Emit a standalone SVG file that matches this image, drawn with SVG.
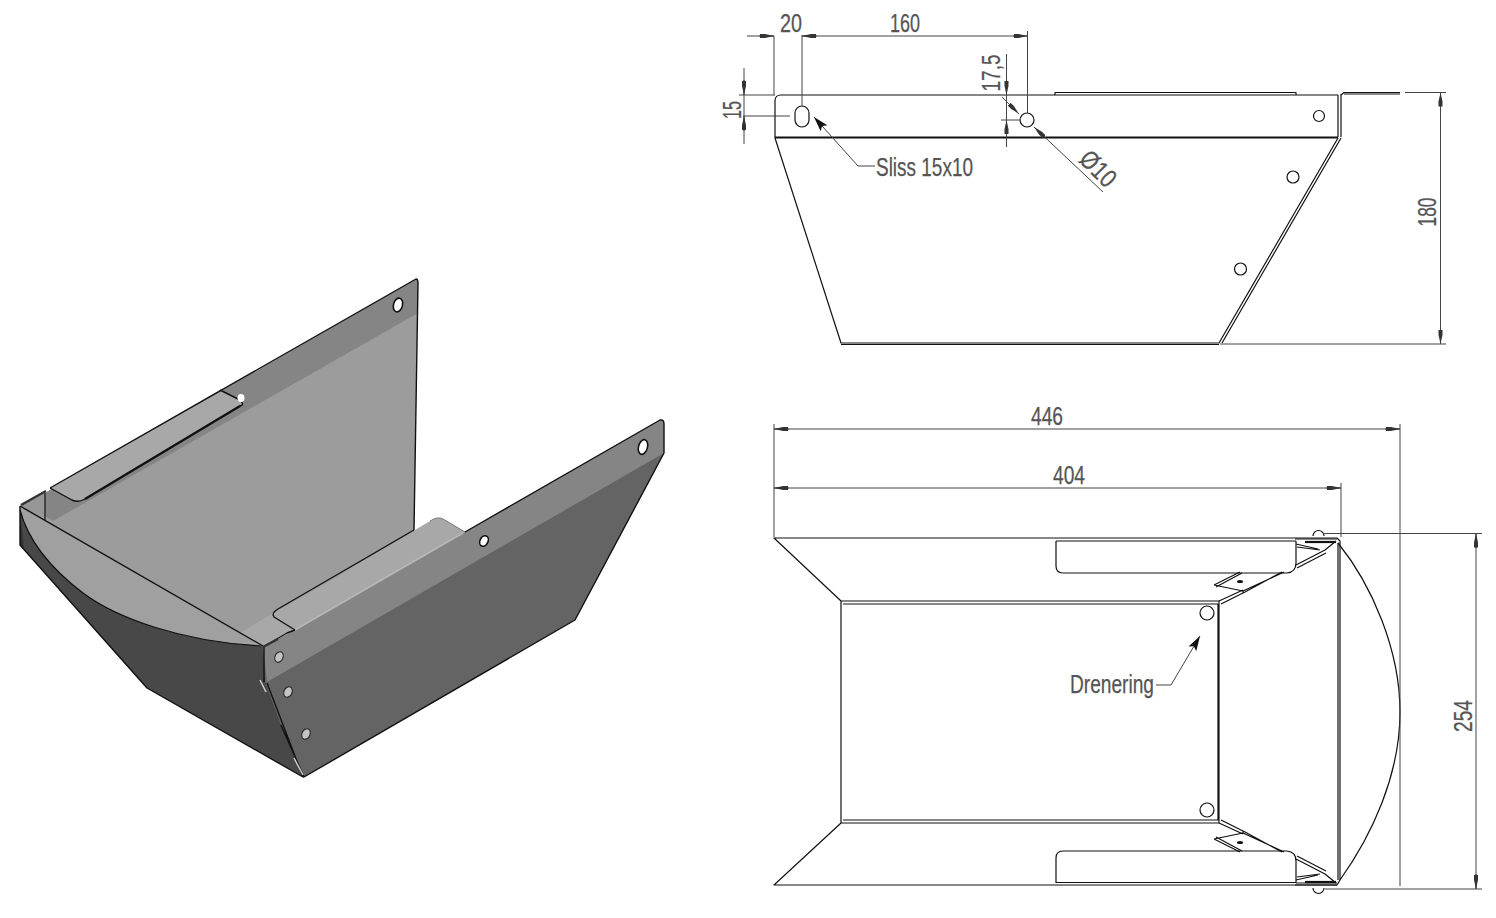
<svg xmlns="http://www.w3.org/2000/svg" xmlns:xlink="http://www.w3.org/1999/xlink" width="1496" height="918" viewBox="0 0 1496 918">
<style>
.e{stroke:#111;stroke-width:1.2;fill:none;stroke-linejoin:round}
.t{stroke:#111;stroke-width:2.2;fill:none}
.o{stroke:#111;stroke-width:1.4;stroke-linejoin:round}
.d{stroke:#444;stroke-width:1;fill:none}
.a{marker-end:url(#ah)}
.h{fill:#fff;stroke:#111;stroke-width:1.6}
.g{fill:#c4c4c4;stroke:#222;stroke-width:1}
text{font-family:"Liberation Sans",Arial,sans-serif;font-size:26px;fill:#555;stroke:#555;stroke-width:.25}
</style>
<defs>
<marker id="ah" markerUnits="userSpaceOnUse" markerWidth="16" markerHeight="8" refX="14" refY="4" orient="auto"><path d="M0,2H5L14,4 5,6H0Z" fill="#333"/></marker>
<marker id="lh" markerUnits="userSpaceOnUse" markerWidth="18" markerHeight="12" refX="15" refY="6" orient="auto"><path d="M15,6L0,1.500 3,6 0,10.500Z" fill="#111"/></marker>
<g id="corner">
<path class="e" d="M1056,541V566Q1056,573 1063,573H1287Q1296,572 1296,563V541"/>
<path class="e" d="M1296,565L1325,550M1297,568L1326,553M1325,550L1336,541M1219,601L1243,590M1221,604L1245,592M1243,590V593M1245,592L1282,572M1243,591L1284,572"/>
<path class="e" d="M1214,585L1240,572M1216,587L1242,573M1214,585L1243,591"/>
<ellipse cx="1240" cy="581.500" rx="3" ry="1.500" fill="#111"/>
<path class="e" d="M1295,539H1337M1296,544L1318,549M1297,547L1320,550"/>
<path class="t" d="M1305,542H1336"/>
<path class="e" d="M1313,536A5,5 0 0 1 1324,536"/>
</g>
</defs>
<rect width="1496" height="918" fill="#fff"/>

<g id="isometric">
<path d="M45,493L416,279Q418,279 418,283L414,530 263,647 20,506Z" fill="#9c9c9c"/>
<path d="M45,493L416,279Q418,279 418,283V313L53,521 45,516Z" fill="#858585"/>
<path d="M20,506L45,493V516Z" fill="#969696"/>
<path d="M50,488L220,390 240,400Q245,405 240,406L85,499Q78,503 72,500Z" fill="#a8a8a8"/>
<path class="o" fill="none" d="M50,488L72,500Q78,503 85,499L240,406Q245,405 240,400L220,390"/>
<path class="t" d="M85,499L240,406"/>
<ellipse cx="241" cy="398" rx="3.500" ry="4" fill="#fff"/>
<path class="e" d="M45,493V521"/>
<path d="M20,506V545L147,688 303,777 263,647Z" fill="#484848"/>
<path d="M20,506V545L24,549C23,535 21,520 20,510Z" fill="#333"/>
<path d="M20,506L20,510C28,540 50,568 83,593C115,617 180,642 263,646Z" fill="#a0a0a0"/>
<path class="e" d="M20,510C28,540 50,568 83,593C115,617 180,642 263,646"/>
<path d="M263,647L295,630 465,532 660,420Q664,419 664,424V453L575,620 304,777 281,725 265,682Z" fill="#646464"/>
<path d="M263,647L295,630 465,532 660,420Q664,419 664,424V453L267,682Z" fill="#858585"/>
<path d="M273,613L328,582 430,521Q437,516 443,519L465,532 295,630Q290,632 286,633L263,647 240,633Z" fill="#a8a8a8"/>
<path d="M293,631L463,533" stroke="#b8b8b8" stroke-width="1.500" fill="none"/>
<path class="o" fill="none" d="M414,530L278,609Q271,613 274,617L295,630M295,630L287,633 263,647"/>
<path d="M465,532L443,519Q438,516 430,521" stroke="#777" fill="none"/>
<path class="o" fill="none" d="M50,488L416,279Q418,279 418,283L414,530M465,532L660,420Q664,419 664,424V453L575,620 304,777 281,725M20,506V545L147,688 303,777 267,683M264,647V682M20,506L263,646"/>
<path d="M263,647L278,639" stroke="#333" stroke-width="2.500" fill="none"/>
<path d="M21,505L46,491" stroke="#333" stroke-width="2.500" fill="none"/>
<path d="M260,680L266,692M294,758L303,775" stroke="#ccc" stroke-width="1.500" fill="none"/>
<ellipse class="h" cx="398" cy="305" rx="4.500" ry="7" transform="rotate(15 398 305)"/>
<ellipse class="h" cx="643" cy="447" rx="4.500" ry="7.500" transform="rotate(15 643 447)"/>
<ellipse class="h" cx="484" cy="541" rx="4" ry="5.500" transform="rotate(25 484 541)"/>
<ellipse class="g" cx="279" cy="657" rx="4" ry="5.500" transform="rotate(25 279 657)"/>
<ellipse class="g" cx="288" cy="692" rx="4" ry="5.500" transform="rotate(25 288 692)"/>
<ellipse class="g" cx="306" cy="734" rx="4" ry="5.500" transform="rotate(25 306 734)"/>
</g>

<g id="side-view">
<path class="e" d="M1338,95H781Q775,95 775,101V138L841,343H1219L1338,138"/>
<path class="t" d="M775,137.500H1338"/>
<path class="e" d="M1055,95V92.500H1296V95M1338,95V137M1341,94V137M1341,95L1344,92.500H1400M1344,94H1400M1341,138L1222,343M841,344.500H1219"/>
<rect class="e" x="795" y="106" width="14" height="21" rx="7" ry="7"/>
<circle class="e" cx="1027" cy="120" r="7"/>
<circle class="e" cx="1319" cy="116" r="5.500"/>
<circle class="e" cx="1293" cy="177" r="6"/>
<circle class="e" cx="1240.500" cy="269" r="6"/>
</g>

<g id="plan-view">
<path class="e" d="M774,538H1337L1340,541V880L1337,885H774L841,823H1219V601H841ZM1190,541H1296M1296,882.500H1056M841,601V823M1056,541H1296M1218,604H843M1218,604V820H843M1338,543V880M774,885H1337M1296,883H1337"/>
<path class="e" d="M1338,543C1372,585 1400,650 1400,712C1400,775 1372,835 1340,880"/>
<use xlink:href="#corner" href="#corner"/>
<use xlink:href="#corner" href="#corner" transform="translate(0,1424) scale(1,-1)"/>
<circle class="e" cx="1207" cy="613" r="7"/>
<circle class="e" cx="1207" cy="810" r="7"/>
</g>

<g id="connectors">
<path class="d" d="M774,36V95M802,35V106M1027.500,31V113M747,36H774M802,36H1027.500M739,95H775M743,116H790M744,68V144M1001,120H1020M1006.500,54V147M1405,92.500H1446M1220,344H1446M1440.500,92.500V344M774,424V537M1400,424V886M1341,483V537M1323,533.500H1482M1325,889H1482M1476,533.500V889M774,429H1400M774,488H1341"/>
<path class="d a" d="M759,36H774"/><path class="d a" d="M817,36H802"/><path class="d a" d="M1013,36H1027.500"/>
<path class="d a" d="M744,80V95"/><path class="d a" d="M744,131V116"/>
<path class="d a" d="M1006.500,80V95"/><path class="d a" d="M1006.500,135V120"/>
<path class="d a" d="M1440.500,107V92.500"/><path class="d a" d="M1440.500,329V344"/>
<path class="d a" d="M789,429H774"/><path class="d a" d="M1385,429H1400"/>
<path class="d a" d="M789,488H774"/><path class="d a" d="M1326,488H1341"/>
<path class="d a" d="M1476,548V533.500"/><path class="d a" d="M1476,874V889"/>
<path class="d a" d="M1002,97L1019,114"/>
<path class="d a" d="M1103,192L1034,127"/>
<path class="d" d="M875,166H858L814,117" marker-end="url(#lh)"/>
<path class="d" d="M1156,685H1171L1200,636" marker-end="url(#lh)"/>
</g>

<g id="labels">
<text x="791" y="32" text-anchor="middle" textLength="22" lengthAdjust="spacingAndGlyphs">20</text>
<text x="905" y="32" text-anchor="middle" textLength="30" lengthAdjust="spacingAndGlyphs">160</text>
<text transform="translate(741,110) rotate(-90)" text-anchor="middle" textLength="18" lengthAdjust="spacingAndGlyphs">15</text>
<text transform="translate(1000,73) rotate(-90)" text-anchor="middle" textLength="37" lengthAdjust="spacingAndGlyphs">17,5</text>
<text transform="translate(1092,175) rotate(45)" text-anchor="middle" textLength="40" lengthAdjust="spacingAndGlyphs">Ø10</text>
<text x="876" y="176" textLength="97" lengthAdjust="spacingAndGlyphs">Sliss 15x10</text>
<text transform="translate(1436,212) rotate(-90)" text-anchor="middle" textLength="29" lengthAdjust="spacingAndGlyphs">180</text>
<text x="1047" y="425" text-anchor="middle" textLength="32" lengthAdjust="spacingAndGlyphs">446</text>
<text x="1069" y="484" text-anchor="middle" textLength="32" lengthAdjust="spacingAndGlyphs">404</text>
<text x="1070" y="693" textLength="84" lengthAdjust="spacingAndGlyphs">Drenering</text>
<text transform="translate(1472,716) rotate(-90)" text-anchor="middle" textLength="32" lengthAdjust="spacingAndGlyphs">254</text>
</g>
</svg>
